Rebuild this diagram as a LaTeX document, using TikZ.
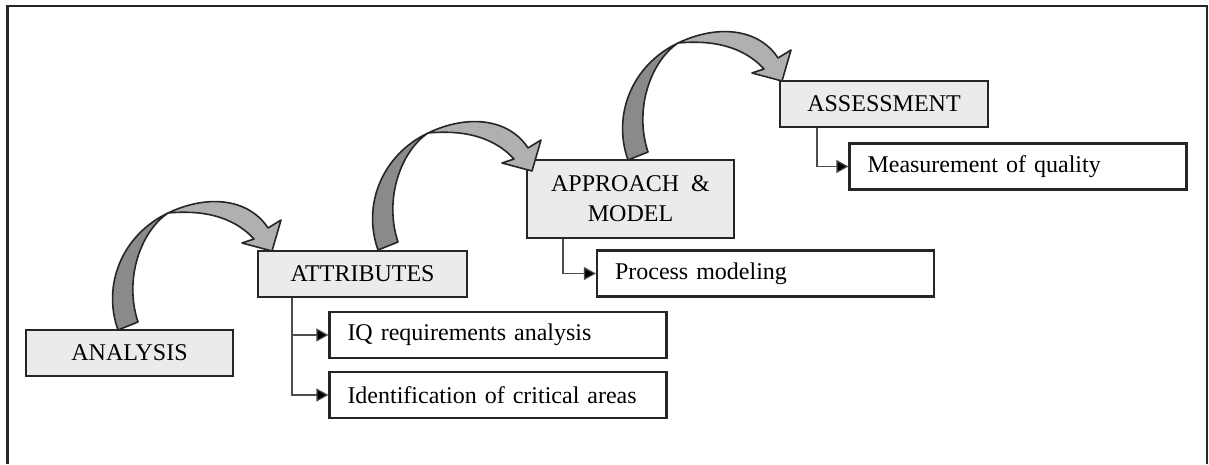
\documentclass[tikz,border=0pt]{standalone}
\usepackage{fontspec}
\setmainfont{Liberation Serif}
\usetikzlibrary{arrows.meta}
\definecolor{boxfill}{HTML}{EBEBEB}
\definecolor{edge}{HTML}{262626}
\definecolor{arrdark}{HTML}{8A8A8A}
\definecolor{arrlight}{HTML}{B0B0B0}
\begin{document}
\begin{tikzpicture}[x=1pt,y=-1pt,
  every node/.style={font=\fontsize{24}{30}\selectfont, text=black},
  stage/.style={draw=edge, line width=2.2pt, fill=boxfill, minimum width=207pt, minimum height=46pt, inner sep=0pt, align=center},
  task/.style={draw=edge, line width=2.2pt, fill=white, text width=301pt, inner xsep=18pt, inner ysep=0pt, minimum height=46pt, align=left},
  conn/.style={draw=black!70, line width=1.2pt, -{Triangle[length=12pt,width=13pt,fill=black]}},
  arrline/.style={draw=edge, line width=1.6pt, line join=round},
  curvedarr/.pic={
    \filldraw[arrline, fill=arrdark] (0,0) .. controls (-16,-45) and (4,-95) .. (50,-117)
      .. controls (22,-98) and (6,-50) .. (20,-8) -- cycle;
    \filldraw[arrline, fill=arrlight] (50,-117) .. controls (92,-137) and (132,-130) .. (150,-102)
      -- (163,-110) -- (154,-79) -- (124,-87) -- (136,-91)
      .. controls (114,-115) and (82,-120) .. (50,-117) -- cycle;
  }]
\useasboundingbox (0,0) rectangle (1209,464);
\fill[white] (0,0) rectangle (1209,464);
\draw[edge, line width=2.2pt] (7.5,464) -- (7.5,6) -- (1207,6) -- (1207,464);

\node[stage] (analysis) at (129.5,353) {ANALYSIS};
\node[stage, minimum width=209pt] (attr) at (362.5,274) {ATTRIBUTES};
\node[task] (iq) at (498,335) {IQ requirements analysis};
\node[task] (ident) at (498,395) {Identification of critical areas};
\node[stage, minimum height=78pt] (appr) at (630.5,199) {APPROACH\ \ \&\\MODEL};
\node[task] (proc) at (765.5,273.5) {Process modeling};
\node[stage, minimum width=208pt] (assess) at (884,104) {ASSESSMENT};
\node[task] (meas) at (1018,166.5) {Measurement of quality};

\draw[conn] ([xshift=35pt]attr.south west) |- (iq.west);
\draw[conn] ([xshift=35pt]attr.south west) |- (ident.west);
\draw[conn] ([xshift=37pt]appr.south west) |- (proc.west);
\draw[conn] ([xshift=38pt]assess.south west) |- (meas.west);

\pic at (118,330) {curvedarr};
\pic at (378,250) {curvedarr};
\pic at (628,160) {curvedarr};
\end{tikzpicture}
\end{document}
